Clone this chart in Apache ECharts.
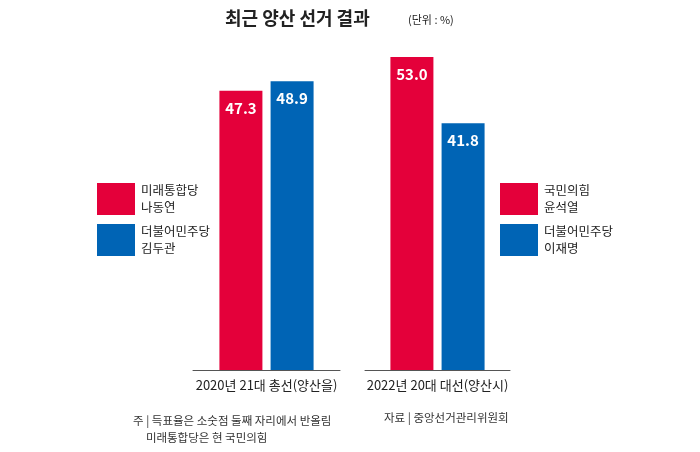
<!DOCTYPE html>
<html><head><meta charset="utf-8">
<script src="https://cdn.jsdelivr.net/npm/echarts@6/dist/echarts.min.js"></script>
<style>html,body{margin:0;background:#fff}#c{width:700px;height:452px}</style>
</head><body><div id="c"></div>
<script>
// 선거 데이터
const elections = ['2020년 21대 총선(양산을)', '2022년 20대 대선(양산시)'];
const redValues = [47.3, 53.0];
const blueValues = [48.9, 41.8];
const redNames = ['미래통합당\n나동연', '국민의힘\n윤석열'];
const blueNames = ['더불어민주당\n김두관', '더불어민주당\n이재명'];

const RED = '#e4003a', BLUE = '#0064b5';
const FONT = '"Noto Sans CJK KR", sans-serif';

const chart = echarts.init(document.getElementById('c'));
const grids = [
  { left: 193, width: 147, top: 57, bottom: 82 },
  { left: 365, width: 145, top: 57, bottom: 82 }
];
const label = {
  show: true, position: 'insideTop', distance: 10, color: '#fff',
  fontSize: 15, fontWeight: 'bold', fontFamily: FONT,
  formatter: p => p.value.toFixed(1)
};
const series = [];
elections.forEach((e, i) => {
  series.push({ type: 'bar', xAxisIndex: i, yAxisIndex: i, data: [redValues[i]],
    barWidth: 43, barGap: '19%', itemStyle: { color: RED }, label, silent: true });
  series.push({ type: 'bar', xAxisIndex: i, yAxisIndex: i, data: [blueValues[i]],
    barWidth: 43, barGap: '19%', itemStyle: { color: BLUE }, label, silent: true });
});

function legendItem(x, y, color, text) {
  return [
    { type: 'rect', shape: { x, y, width: 38, height: 32 }, style: { fill: color } },
    { type: 'text', x: x + 44, y: y - 1, style: { text, fill: '#222', fontSize: 12.5,
      lineHeight: 17, fontFamily: FONT } }
  ];
}

chart.setOption({
  animation: false,
  grid: grids,
  xAxis: elections.map((e, i) => ({
    type: 'category', gridIndex: i, data: [e],
    axisLine: { lineStyle: { color: '#555', width: 1 } },
    axisTick: { show: false },
    axisLabel: { color: '#222', fontSize: 13, fontFamily: FONT, margin: 9 }
  })),
  yAxis: elections.map((e, i) => ({
    type: 'value', gridIndex: i, min: 0, max: 53, show: false
  })),
  series,
  graphic: [
    { type: 'text', x: 225, y: 9, style: { text: '최근 양산 선거 결과', fill: '#222',
      fontSize: 18, fontWeight: 'bold', fontFamily: FONT } },
    { type: 'text', x: 408, y: 14, style: { text: '(단위 : %)', fill: '#222',
      fontSize: 11, fontFamily: FONT } },
    ...legendItem(97, 183, RED, redNames[0]),
    ...legendItem(97, 224, BLUE, blueNames[0]),
    ...legendItem(500, 183, RED, redNames[1]),
    ...legendItem(500, 224, BLUE, blueNames[1]),
    { type: 'text', x: 133, y: 412, style: { text: '주 | 득표율은 소숫점 둘째 자리에서 반올림\n     미래통합당은 현 국민의힘',
      fill: '#333', fontSize: 11.5, lineHeight: 17, fontFamily: FONT } },
    { type: 'text', x: 384, y: 412, style: { text: '자료 | 중앙선거관리위원회',
      fill: '#333', fontSize: 11.5, fontFamily: FONT } }
  ]
});
</script></body></html>
